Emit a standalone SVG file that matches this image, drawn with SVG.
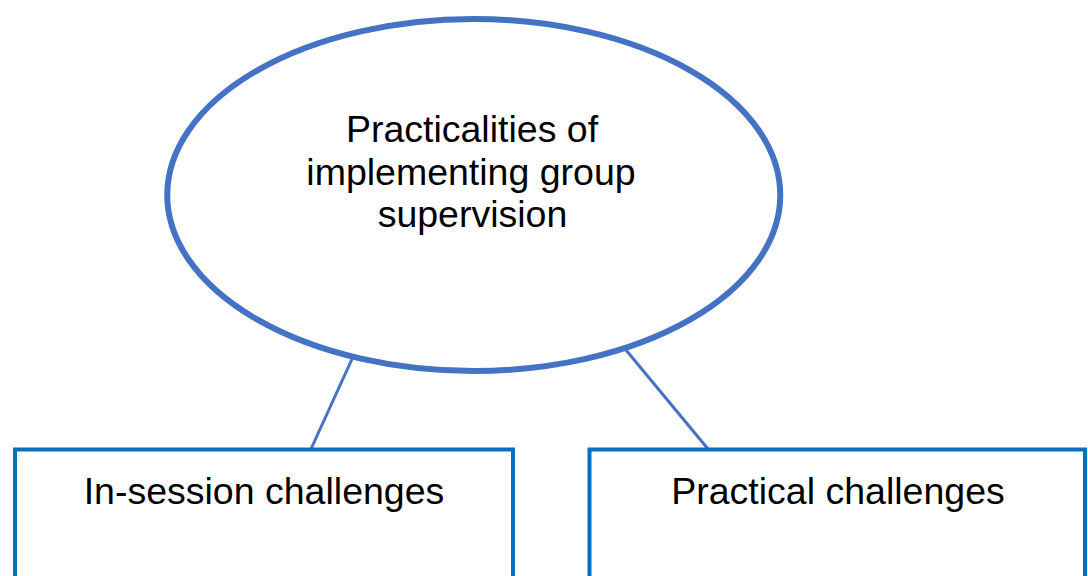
<svg xmlns="http://www.w3.org/2000/svg" width="1088" height="576" viewBox="0 0 1088 576">
  <style>
    .label { font-family: "Liberation Sans", Arial, Helvetica, sans-serif; font-size: 37.5px; fill: #000000; text-anchor: middle; }
    .topic { fill: #ffffff; stroke: #4472C4; stroke-width: 6; }
    .box { fill: #ffffff; stroke: #0070C0; stroke-width: 4; }
    .link { stroke: #4472C4; stroke-width: 3; fill: none; }
  </style>
  <rect x="0" y="0" width="1088" height="576" fill="#ffffff"/>

  <!-- connectors -->
  <g id="connectors">
    <line class="link" x1="352" y1="359" x2="311" y2="449"/>
    <line class="link" x1="626" y1="350" x2="708" y2="449"/>
  </g>

  <!-- central topic -->
  <g id="topic">
    <ellipse class="topic" cx="473.75" cy="195" rx="306.5" ry="176"/>
    <text class="label" x="472" y="142">Practicalities of</text>
    <text class="label" x="471" y="185">implementing group</text>
    <text class="label" x="472.5" y="227">supervision</text>
  </g>

  <!-- child boxes -->
  <g id="in-session">
    <rect class="box" x="15" y="449.5" width="498" height="160"/>
    <text class="label" x="264" y="504">In-session challenges</text>
  </g>
  <g id="practical">
    <rect class="box" x="589.5" y="449.5" width="495.5" height="160"/>
    <text class="label" x="838" y="504">Practical challenges</text>
  </g>
</svg>
